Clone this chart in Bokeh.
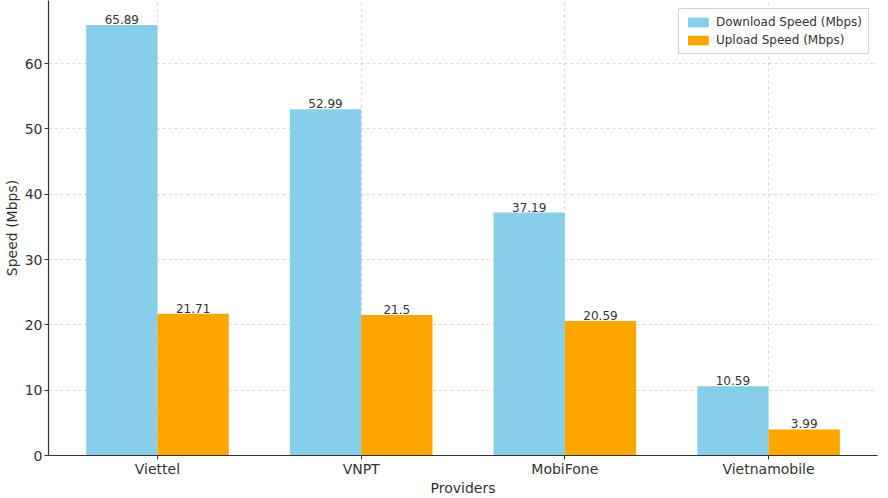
from bokeh.plotting import figure
from bokeh.models import ColumnDataSource, FixedTicker, Legend, LegendItem, Range1d
from bokeh.core.properties import value
from bokeh.embed import file_html
from bokeh.resources import INLINE

providers = ["Viettel", "VNPT", "MobiFone", "Vietnamobile"]
download = [65.89, 52.99, 37.19, 10.59]
upload = [21.71, 21.5, 20.59, 3.99]
y_ticks = [0, 10, 20, 30, 40, 50, 60]

W = 0.35
xs = list(range(len(providers)))
src_d = ColumnDataSource(dict(x=[i - W / 2 for i in xs], top=download, lbl=[str(v) for v in download]))
src_u = ColumnDataSource(dict(x=[i + W / 2 for i in xs], top=upload, lbl=[str(v) for v in upload]))

p = figure(width=888, height=498, output_backend="svg", toolbar_location=None,
           x_range=Range1d(-0.535, 3.535), y_range=Range1d(0, 69.65),
           min_border_left=40, min_border_right=11, min_border_top=0, min_border_bottom=30)
p.outline_line_color = None
p.background_fill_color = "white"

rd = p.vbar(x="x", top="top", width=W, source=src_d, fill_color="#87CEEB", line_color=None)
ru = p.vbar(x="x", top="top", width=W, source=src_u, fill_color="#FFA500", line_color=None)

for s in (src_d, src_u):
    p.text(x="x", y="top", text="lbl", source=s, text_align="center", text_baseline="bottom",
           y_offset=-1, text_font_size="12px", text_color="#333333", text_font=value("DejaVu Sans"))

p.xaxis.ticker = FixedTicker(ticks=xs)
p.xaxis.major_label_overrides = {i: n for i, n in enumerate(providers)}
p.yaxis.ticker = FixedTicker(ticks=y_ticks)

for ax in (p.xaxis[0], p.yaxis[0]):
    ax.axis_line_color = "#333333"
    ax.axis_line_width = 1.2
    ax.major_tick_line_color = "#333333"
    ax.major_tick_out = 4
    ax.major_tick_in = 0
    ax.minor_tick_line_color = None
    ax.major_label_text_font = "DejaVu Sans"
    ax.major_label_text_font_size = "14px"
    ax.major_label_text_color = "#333333"
    ax.axis_label_text_font = "DejaVu Sans"
    ax.axis_label_text_font_size = "14px"
    ax.axis_label_text_font_style = "normal"
    ax.axis_label_text_color = "#333333"

p.xaxis.axis_label = "Providers"
p.yaxis.axis_label = "Speed (Mbps)"
p.xaxis.axis_label_standoff = 0
p.yaxis.axis_label_standoff = 2
p.yaxis.major_label_standoff = 2
p.xaxis.major_label_standoff = 1

for g in (p.xgrid[0], p.ygrid[0]):
    g.grid_line_color = "#cccccc"
    g.grid_line_dash = "3 3"
    g.grid_line_width = 0.8
    g.grid_line_alpha = 0.9

legend = Legend(items=[LegendItem(label="Download Speed (Mbps)", renderers=[rd]),
                       LegendItem(label="Upload Speed (Mbps)", renderers=[ru])],
                location="top_right", label_text_font="DejaVu Sans", label_text_font_size="12px",
                label_text_color="#333333", glyph_width=26, glyph_height=12, label_height=14,
                spacing=4, padding=6, margin=8, border_line_color="#cccccc", border_line_alpha=0.9,
                background_fill_alpha=0.9)
p.add_layout(legend)

open("out.html", "w").write(file_html(p, INLINE))
